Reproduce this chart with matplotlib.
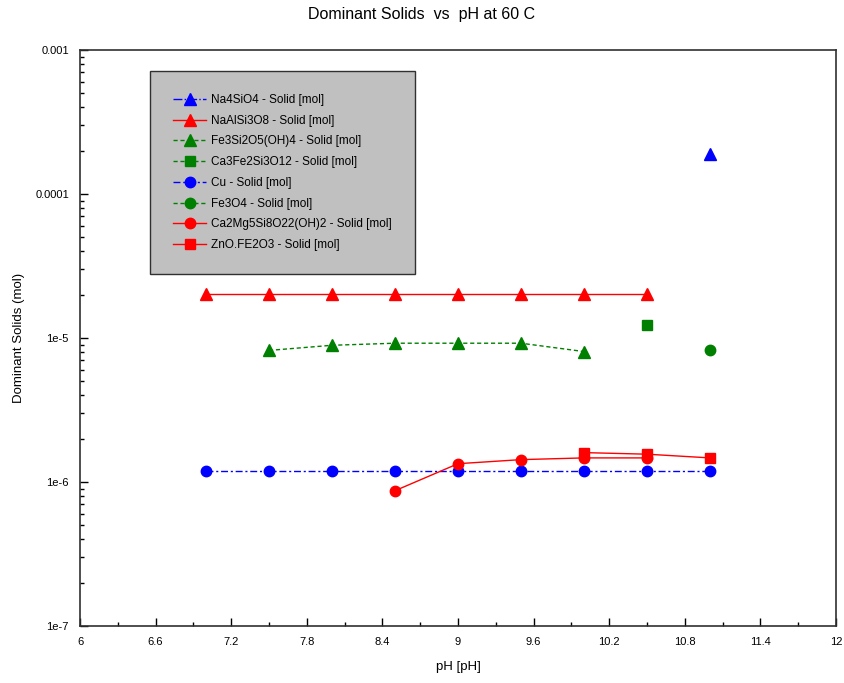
import matplotlib
matplotlib.use("Agg")
import matplotlib.pyplot as plt
from matplotlib.ticker import FixedLocator, LogLocator, NullFormatter, FixedFormatter
import numpy as np

plt.rcParams['font.family'] = ['Liberation Sans', 'DejaVu Sans']

# ---- data ----
ph_na4sio4 = [11.0]
na4sio4 = [1.9e-4]

ph_naalsi3o8 = [7.0, 7.5, 8.0, 8.5, 9.0, 9.5, 10.0, 10.5]
naalsi3o8 = [2.02e-5] * 8

ph_fe3si2o5 = [7.5, 8.0, 8.5, 9.0, 9.5, 10.0]
fe3si2o5 = [8.2e-6, 8.9e-6, 9.2e-6, 9.2e-6, 9.2e-6, 8.05e-6]

ph_ca3fe2 = [10.5]
ca3fe2 = [1.24e-5]

ph_cu = [7.0, 7.5, 8.0, 8.5, 9.0, 9.5, 10.0, 10.5, 11.0]
cu = [1.2e-6] * 9

ph_fe3o4 = [11.0]
fe3o4 = [8.2e-6]

ph_ca2mg5 = [8.5, 9.0, 9.5, 10.0, 10.5]
ca2mg5 = [8.7e-7, 1.34e-6, 1.43e-6, 1.47e-6, 1.47e-6]

ph_zno = [10.0, 10.5, 11.0]
zno = [1.60e-6, 1.56e-6, 1.47e-6]

x_ticks = [6, 6.6, 7.2, 7.8, 8.4, 9, 9.6, 10.2, 10.8, 11.4, 12]
x_tick_labels = ["6", "6.6", "7.2", "7.8", "8.4", "9", "9.6", "10.2", "10.8", "11.4", "12"]
y_ticks = [1e-7, 1e-6, 1e-5, 1e-4, 1e-3]
y_tick_labels = ["1e-7", "1e-6", "1e-5", "0.0001", "0.001"]

BLUE = '#0000ff'
RED = '#ff0000'
GREEN = '#008000'

fig = plt.figure(figsize=(8.44, 6.83), dpi=100)
ax = fig.add_axes([80/844, 1-626/683, 756/844, 576/683])

ms = 7.5
ax.plot(ph_na4sio4, na4sio4, color=BLUE, ls='-.', lw=1, marker='^', ms=ms+1,
        label='Na4SiO4 - Solid [mol]')
ax.plot(ph_naalsi3o8, naalsi3o8, color=RED, ls='-', lw=1, marker='^', ms=ms+1,
        label='NaAlSi3O8 - Solid [mol]')
ax.plot(ph_fe3si2o5, fe3si2o5, color=GREEN, ls=(0, (3, 2)), lw=1, marker='^', ms=ms+1,
        label='Fe3Si2O5(OH)4 - Solid [mol]')
ax.plot(ph_ca3fe2, ca3fe2, color=GREEN, ls=(0, (3, 2)), lw=1, marker='s', ms=ms,
        label='Ca3Fe2Si3O12 - Solid [mol]')
ax.plot(ph_cu, cu, color=BLUE, ls=(0, (5, 2, 1.5, 2)), lw=1, marker='o', ms=ms,
        label='Cu - Solid [mol]')
ax.plot(ph_fe3o4, fe3o4, color=GREEN, ls=(0, (3, 2)), lw=1, marker='o', ms=ms,
        label='Fe3O4 - Solid [mol]')
ax.plot(ph_ca2mg5, ca2mg5, color=RED, ls='-', lw=1, marker='o', ms=ms,
        label='Ca2Mg5Si8O22(OH)2 - Solid [mol]')
ax.plot(ph_zno, zno, color=RED, ls='-', lw=1, marker='s', ms=ms,
        label='ZnO.FE2O3 - Solid [mol]')

ax.set_yscale('log')
ax.set_xlim(6, 12)
ax.set_ylim(1e-7, 1e-3)

ax.xaxis.set_major_locator(FixedLocator(x_ticks))
ax.xaxis.set_major_formatter(FixedFormatter(x_tick_labels))
ax.xaxis.set_minor_locator(FixedLocator(np.arange(6.3, 12, 0.6)))
ax.yaxis.set_major_locator(FixedLocator(y_ticks))
ax.yaxis.set_major_formatter(FixedFormatter(y_tick_labels))
ax.yaxis.set_minor_locator(LogLocator(base=10, subs=np.arange(2, 10)))
ax.yaxis.set_minor_formatter(NullFormatter())

ax.tick_params(which='both', direction='in', top=False, right=False, labelsize=8,
               colors='black', width=1)
ax.tick_params(which='major', length=6, pad=8)
ax.tick_params(which='minor', length=3)
for s in ax.spines.values():
    s.set_color('#303030')
    s.set_linewidth(1.2)

ax.set_xlabel('pH [pH]', fontsize=9.5, labelpad=10)
ax.set_ylabel('Dominant Solids (mol)', fontsize=9.5, labelpad=7)
fig.text(0.5, 1-15/683, 'Dominant Solids  vs  pH at 60 C', ha='center', va='center', fontsize=11.5)

leg = ax.legend(loc='upper left', bbox_to_anchor=((150-80)/756, (626-71)/576),
                fontsize=8.5, frameon=True, fancybox=False, shadow=False,
                handlelength=2.8, handletextpad=0.4, labelspacing=0.74,
                borderpad=1.95, borderaxespad=0, markerscale=1.0)
frame = leg.get_frame()
frame.set_facecolor('#c0c0c0')
frame.set_edgecolor('#303030')
frame.set_linewidth(1.0)
frame.set_alpha(1)

fig.savefig('out.png', dpi=100)
